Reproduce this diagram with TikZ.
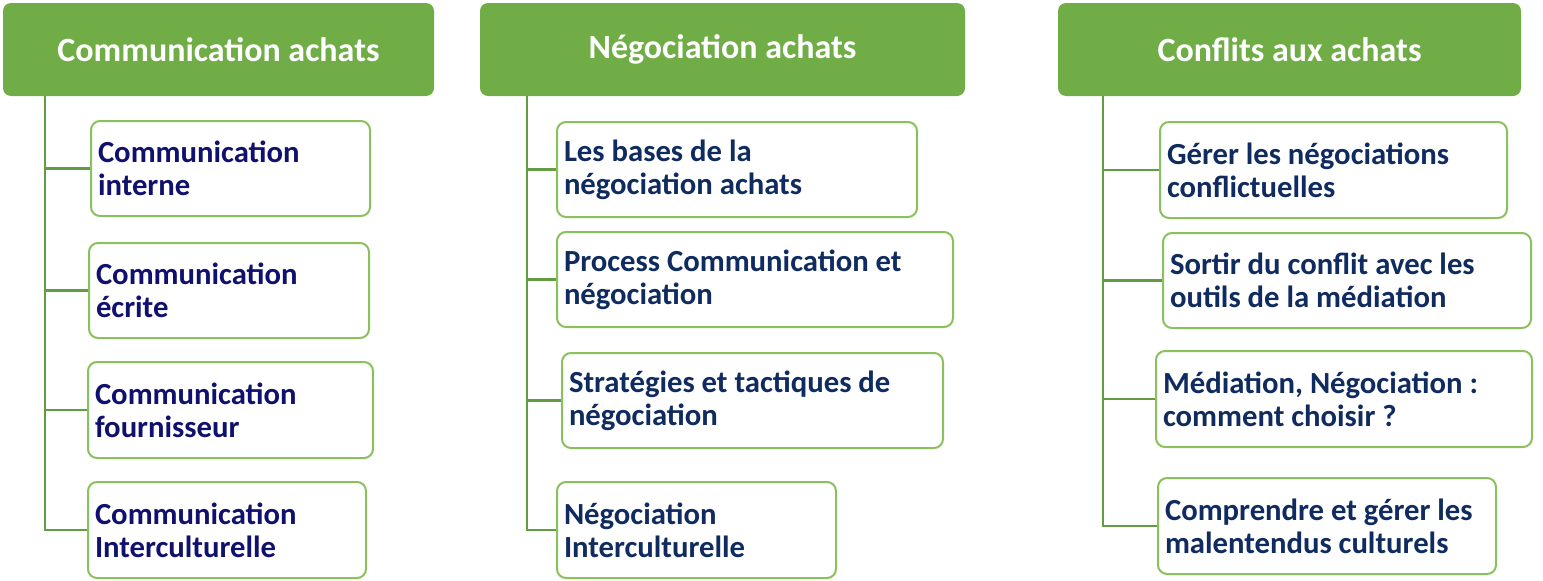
\documentclass[tikz,border=0pt]{standalone}
\usepackage{fontspec}
\setmainfont{Carlito}
\definecolor{hdr}{HTML}{70AD47}
\definecolor{bord}{HTML}{8BC15C}
\definecolor{connc}{HTML}{649C42}
\definecolor{txtA}{HTML}{10106E}
\definecolor{txtB}{HTML}{0F2B5F}
\tikzset{
  hdrbox/.style={fill=hdr, draw=none, rounded corners=8pt, text=white,
    font=\bfseries\fontsize{34}{40}\selectfont, inner sep=0pt, minimum height=93pt},
  item/.style={draw=bord, line width=2pt, fill=white, rounded corners=9pt,
    align=flush left, inner xsep=7pt, inner ysep=0pt,
    font=\bfseries\fontsize{30.7}{33}\selectfont},
  itemA/.style={item, text=txtA},
  itemB/.style={item, text=txtB},
  connline/.style={draw=connc, line width=2.2pt}
}
\begin{document}
\begin{tikzpicture}[x=1pt,y=-1pt]
\useasboundingbox (0,0) rectangle (1543,581);
% headers
\node[hdrbox, minimum width=431pt] (h1) at (218.5,49.5) {Communication achats};
\node[hdrbox, minimum width=485pt] (h2) at (722.5,49.5) {Négociation achats};
\node[hdrbox, minimum width=463pt] (h3) at (1289.5,49.5) {Conflits aux achats};
% column 1
\node[itemA, text width=265pt, minimum height=95pt] (b1) at (230.5,168.5) {Communication\\interne};
\node[itemA, text width=266pt, minimum height=95pt] (b2) at (229,290.5) {Communication\\écrite};
\node[itemA, text width=271pt, minimum height=96pt] (b3) at (230.5,410) {Communication\\fournisseur};
\node[itemA, text width=264pt, minimum height=96pt] (b4) at (227,530) {Communication\\Interculturelle};
% column 2
\node[itemB, text width=346pt, minimum height=95pt] (c1) at (737,169.5) {Les bases de la\\négociation achats};
\node[itemB, text width=382pt, minimum height=95pt] (c2) at (755,279.5) {Process Communication et\\négociation};
\node[itemB, text width=367pt, minimum height=95pt] (c3) at (752.5,400.5) {Stratégies et tactiques de\\négociation};
\node[itemB, text width=265pt, minimum height=96pt] (c4) at (696.5,530) {Négociation\\Interculturelle};
% column 3
\node[itemB, text width=333pt, minimum height=96pt] (d1) at (1333.5,170) {Gérer les négociations\\conflictuelles};
\node[itemB, text width=354pt, minimum height=95pt] (d2) at (1347,280.5) {Sortir du conflit avec les\\outils de la médiation};
\node[itemB, text width=362pt, minimum height=96pt] (d3) at (1344,399) {Médiation, Négociation :\\comment choisir ?};
\node[itemB, text width=324pt, minimum height=96pt] (d4) at (1327,526) {Comprendre et gérer les\\malentendus culturels};
% connectors
\coordinate (t1) at (45,96);
\coordinate (t2) at (527,96);
\coordinate (t3) at (1103,96);
\draw[connline] (t1) |- (b4.west);
\draw[connline] (t1 |- b1.west) -- (b1.west);
\draw[connline] (t1 |- b2.west) -- (b2.west);
\draw[connline] (t1 |- b3.west) -- (b3.west);
\draw[connline] (t2) |- (c4.west);
\draw[connline] (t2 |- c1.west) -- (c1.west);
\draw[connline] (t2 |- c2.west) -- (c2.west);
\draw[connline] (t2 |- c3.west) -- (c3.west);
\draw[connline] (t3) |- (d4.west);
\draw[connline] (t3 |- d1.west) -- (d1.west);
\draw[connline] (t3 |- d2.west) -- (d2.west);
\draw[connline] (t3 |- d3.west) -- (d3.west);
\end{tikzpicture}
\end{document}
